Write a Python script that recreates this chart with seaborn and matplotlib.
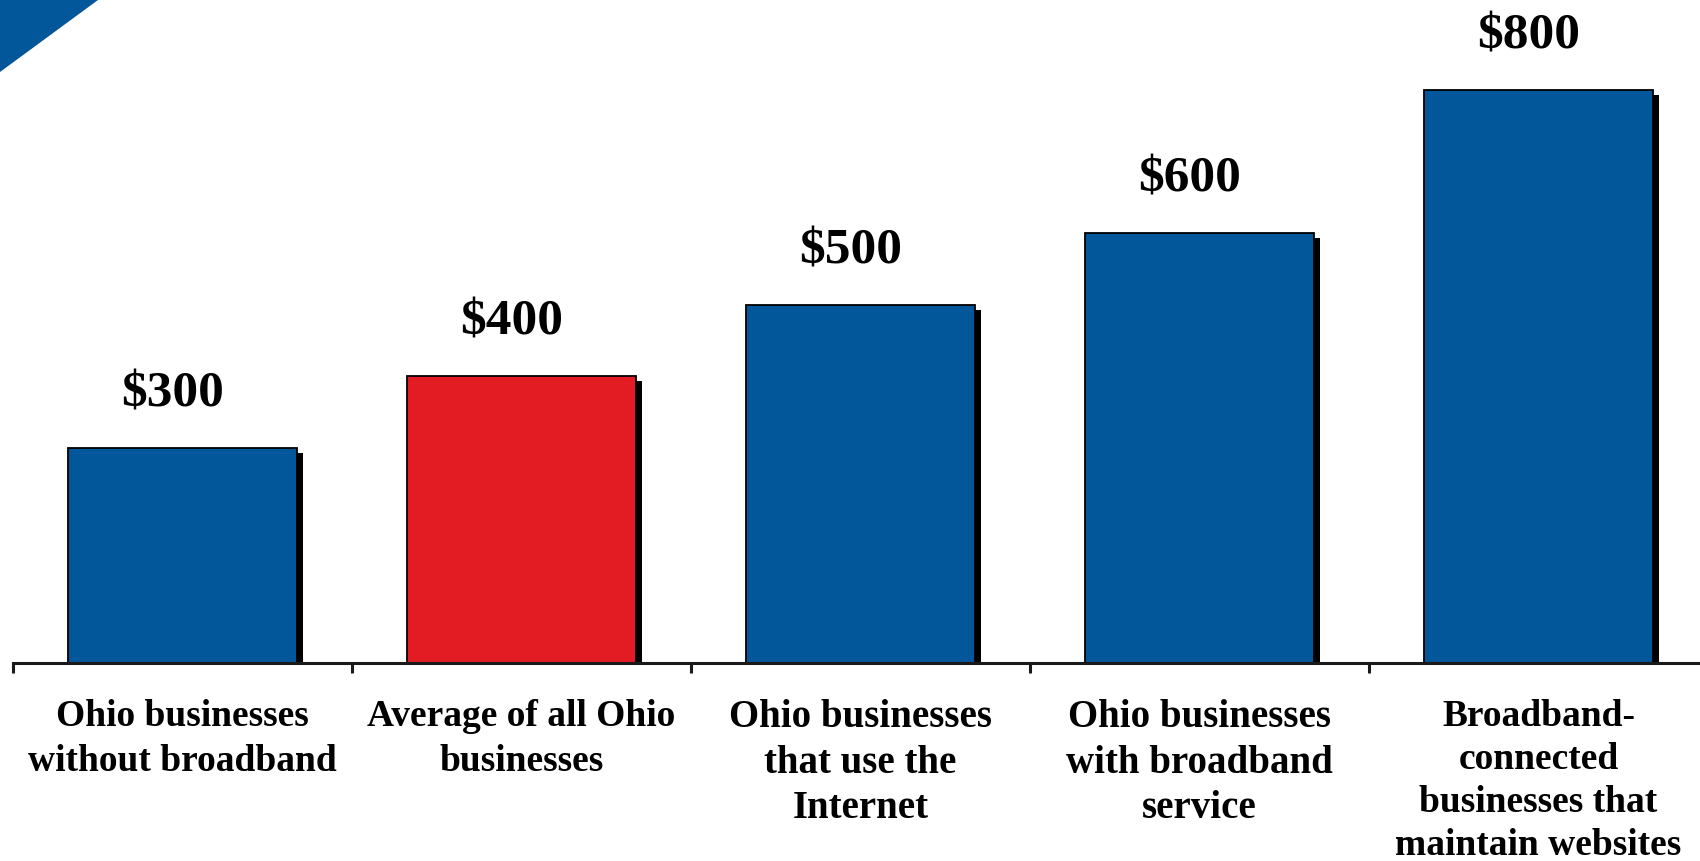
import matplotlib
matplotlib.use("Agg")
import matplotlib.pyplot as plt
import matplotlib.patheffects as pe
from matplotlib.patches import Polygon
import seaborn as sns
import pandas as pd

categories = [
    "Ohio businesses\nwithout broadband",
    "Average of all Ohio\nbusinesses",
    "Ohio businesses\nthat use the\nInternet",
    "Ohio businesses\nwith broadband\nservice",
    "Broadband-\nconnected\nbusinesses that\nmaintain websites",
]
values = [300, 400, 500, 600, 800]
value_labels = ["$300", "$400", "$500", "$600", "$800"]
bar_colors = ["#02569A", "#E31C24", "#02569A", "#02569A", "#02569A"]
label_sizes = [27, 27, 28, 28, 27]
label_line_px = [44, 44, 44, 44, 42]

sns.set_theme(style="white")
plt.rcParams["font.family"] = ["Liberation Serif", "DejaVu Serif"]

df = pd.DataFrame({"cat": categories, "val": values})

W, H = 1700, 861
fig = plt.figure(figsize=(W / 100, H / 100), dpi=100)
fig.patch.set_facecolor("white")
ax = fig.add_axes([13 / W, 198 / H, 1695 / W, 645 / H])

sns.barplot(data=df, x="cat", y="val", hue="cat", palette=bar_colors,
            legend=False, width=0.675, edgecolor="black", linewidth=1.3,
            saturation=1, ax=ax)

for p in ax.patches:
    p.set_path_effects([pe.SimplePatchShadow(offset=(4.3, -3.6),
                                             shadow_rgbFace="black", alpha=1.0),
                        pe.Normal()])

for i, (v, lab) in enumerate(zip(values, value_labels)):
    ax.annotate(lab, xy=(i, v), xytext=(-7, 30), textcoords="offset points",
                ha="center", va="baseline", fontsize=37, fontweight="bold",
                color="black")

ax.set_xlim(-0.5, 4.5)
ax.set_ylim(0, 900)
ax.set_yticks([])
ax.set_xlabel("")
ax.set_ylabel("")
for s in ["top", "left", "right"]:
    ax.spines[s].set_visible(False)
ax.spines["bottom"].set_linewidth(2.2)
ax.spines["bottom"].set_color("#1a1a1a")

ax.set_xticks(range(len(categories)))
ax.set_xticklabels(categories, fontweight="bold")
for t, fs, lp in zip(ax.get_xticklabels(), label_sizes, label_line_px):
    t.set_fontsize(fs)
    t.set_linespacing(lp / (0.868 * fs * 100 / 72))
ax.set_xticks([i - 0.5 for i in range(len(categories) + 1)], minor=True)
ax.tick_params(axis="x", which="major", length=0, pad=26, colors="black")
ax.tick_params(axis="x", which="minor", length=7, width=2.2, color="#1a1a1a",
               direction="out", bottom=True)

tri = Polygon([[0, H], [98, H], [0, H - 72]], closed=True,
              transform=None, facecolor="#02569A", edgecolor="none")
fig.patches.append(tri)

fig.savefig("out.png", dpi=100)
